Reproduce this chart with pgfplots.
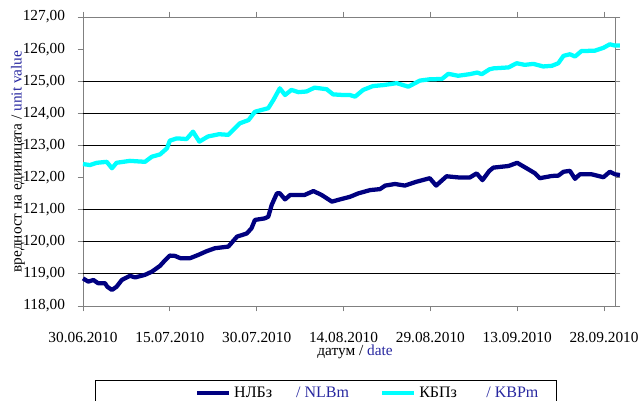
\documentclass[border=0pt]{standalone}
\usepackage{fontspec}
\setmainfont{Liberation Serif}
\usepackage{pgfplots}
\pgfplotsset{compat=1.18}
\definecolor{nlb}{RGB}{0,0,128}
\definecolor{kbp}{RGB}{0,255,255}
\definecolor{lblue}{RGB}{40,40,160}
\definecolor{axgray}{RGB}{128,128,128}
\begin{document}
\begin{tikzpicture}
\useasboundingbox (-62.25pt,-70.5pt) rectangle (418.5pt,229.5pt);
\begin{axis}[
  scale only axis,
  width=399pt, height=216.75pt,
  xmin=0, xmax=91.9,
  ymin=118, ymax=127,
  clip=false,
  axis line style={axgray, line width=0.75pt},
  tick style={axgray, line width=0.75pt},
  tick align=outside,
  major tick length=4pt,
  xtick={0,15,30,45,60,75,90},
  xticklabels={30.06.2010,15.07.2010,30.07.2010,14.08.2010,29.08.2010,13.09.2010,28.09.2010},
  ytick={118,119,120,121,122,123,124,125,126,127},
  extra y ticks={119,120,121,123,124,125},
  extra y tick labels={},
  extra y tick style={grid=major, major grid style={black, line width=0.75pt}, major tick length=0pt},
  /pgf/number format/fixed,
  /pgf/number format/fixed zerofill,
  /pgf/number format/precision=2,
  /pgf/number format/use comma,
  /pgf/number format/1000 sep={},
  /pgf/number format/assume math mode=true,
  ticklabel style={font=\fontsize{11.5}{13}\selectfont},
  xticklabel style={yshift=-12pt},
  yticklabel style={xshift=-6pt},
  xlabel={датум / \textcolor{lblue}{date}},
  ylabel={вредност на единицата / \textcolor{lblue}{unit value}},
  label style={font=\fontsize{11.5}{13}\selectfont},
  xlabel style={at={(axis description cs:0.5,0)}, anchor=center, yshift=-34.5pt, xshift=4.5pt},
  ylabel style={at={(axis description cs:0,0.5)}, anchor=center, yshift=48.75pt},
  legend columns=2,
  legend style={draw=none, fill=none, at={(axis description cs:0,0)}, anchor=west,
    xshift=81pt, yshift=-65.25pt, font=\fontsize{12}{14}\selectfont,
    /tikz/every even column/.append style={column sep=21.5pt}},
  legend image code/.code={\draw[#1, line width=3.2pt] (0pt,0pt) -- (24pt,0pt);},
]
\addplot[nlb, line width=3.2pt, line join=round] coordinates {
(0.0,118.86) (0.9,118.76) (1.8,118.81) (2.6,118.71) (3.8,118.71) (4.2,118.60)
(5.0,118.50) (5.8,118.60) (6.7,118.81) (8.1,118.94) (9.0,118.89) (10.7,118.97)
(11.9,119.07) (13.3,119.25) (14.2,119.43) (15.0,119.57) (15.9,119.56) (16.8,119.49)
(18.5,119.49) (19.9,119.59) (21.4,119.71) (22.8,119.80) (25.1,119.85) (26.6,120.16)
(28.3,120.26) (29.1,120.42) (29.7,120.68) (31.4,120.73) (32.0,120.78) (32.6,121.15)
(33.5,121.51) (34.0,121.51) (34.9,121.32) (35.8,121.46) (38.3,121.46) (39.8,121.58)
(41.2,121.46) (43.0,121.25) (44.4,121.32) (46.1,121.40) (47.6,121.51) (49.6,121.61)
(51.3,121.64) (52.2,121.75) (53.9,121.80) (55.6,121.75) (57.6,121.87) (59.9,121.98)
(61.0,121.75) (62.8,122.04) (65.1,122.00) (66.8,122.00) (68.0,122.13) (69.0,121.92)
(70.2,122.21) (70.9,122.31) (73.5,122.36) (75.0,122.46) (76.9,122.26) (78.1,122.13)
(78.9,121.98) (81.0,122.05) (82.1,122.06) (83.0,122.18) (84.1,122.21) (85.0,121.96)
(85.8,122.10) (87.9,122.10) (89.9,122.01) (91.0,122.18) (91.9,122.10) (92.75,122.08)
};
\addlegendentry{НЛБз\hspace{18pt}\textcolor{lblue}{/ NLBm}}
\addplot[kbp, line width=3.2pt, line join=round] coordinates {
(0.0,122.42) (1.2,122.39) (2.4,122.46) (4.1,122.49) (5.0,122.29) (5.8,122.46)
(8.1,122.52) (10.7,122.49) (11.9,122.65) (13.3,122.72) (14.5,122.91) (15.0,123.15)
(16.2,123.22) (17.9,123.20) (19.0,123.43) (20.1,123.12) (21.6,123.28) (23.5,123.35)
(25.1,123.33) (27.1,123.69) (28.6,123.79) (29.7,124.05) (32.0,124.16) (32.9,124.42)
(34.0,124.78) (34.9,124.57) (36.0,124.73) (37.2,124.66) (38.6,124.68) (40.0,124.80)
(42.1,124.75) (43.2,124.59) (45.0,124.57) (46.1,124.57) (47.0,124.52) (48.4,124.73)
(50.1,124.85) (51.9,124.88) (54.2,124.94) (56.2,124.83) (58.2,125.02) (59.9,125.06)
(62.0,125.07) (63.1,125.23) (64.8,125.17) (66.8,125.22) (68.1,125.27) (68.9,125.22)
(70.2,125.37) (70.9,125.40) (73.5,125.43) (74.9,125.56) (76.3,125.51) (77.8,125.54)
(79.5,125.46) (81.0,125.48) (82.1,125.56) (83.0,125.79) (84.1,125.84) (85.0,125.77)
(86.1,125.94) (88.4,125.95) (89.9,126.04) (91.0,126.15) (91.9,126.11) (92.75,126.11)
};
\addlegendentry{КБПз\hspace{22pt}\textcolor{lblue}{/ KBPm}}
\end{axis}
\draw[black, line width=0.75pt] (9pt,-80pt) -- (9pt,-55.5pt) -- (354.75pt,-55.5pt) -- (354.75pt,-80pt);
\end{tikzpicture}
\end{document}
